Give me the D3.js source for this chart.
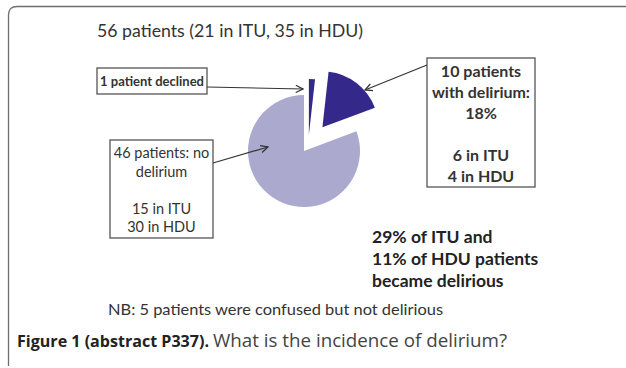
<!DOCTYPE html>
<html>
<head>
<meta charset="utf-8">
<script src="https://cdn.jsdelivr.net/npm/d3@7"></script>
<style>
  html, body { margin: 0; padding: 0; background: #fff; }
  svg { display: block; }
</style>
</head>
<body>
<svg id="chart" width="626" height="368"></svg>
<script>
// Study cohort split, in pie order (clockwise from 12 o'clock)
const categories = ["declined", "delirium", "noDelirium"];
const counts = [1, 10, 46];
const sliceColors = ["#34298a", "#34298a", "#abaace"];

const titleText = "56 patients (21 in ITU, 35 in HDU)";
const declinedLines = ["1 patient declined"];
const deliriumLines = ["10 patients", "with delirium:", "18%", "", "6 in ITU", "4 in HDU"];
const noDeliriumLines = ["46 patients: no", "delirium", "", "15 in ITU", "30 in HDU"];
const summaryLines = ["29% of ITU and", "11% of HDU patients", "became delirious"];
const noteText = "NB: 5 patients were confused but not delirious";
const captionBold = "Figure 1 (abstract P337).";
const captionRest = "What is the incidence of delirium?";

const svg = d3.select("#chart");
const FONT = "Lato, 'Open Sans', sans-serif";

// outer frame: rounded top-left corner, running off the right and bottom edges
svg.append("path")
  .attr("d", "M8.5,366 L8.5,15 Q8.5,6.5 17,6.5 L640,6.5")
  .attr("fill", "none").attr("stroke", "#6e6e6e").attr("stroke-width", 1.3);

// arrow marker (open V head)
const defs = svg.append("defs");
defs.append("marker")
  .attr("id", "head").attr("viewBox", "0 0 10 10")
  .attr("refX", 9).attr("refY", 5)
  .attr("markerWidth", 9).attr("markerHeight", 9)
  .attr("markerUnits", "userSpaceOnUse")
  .attr("orient", "auto")
  .append("path").attr("d", "M1,1 L9,5 L1,9")
  .attr("fill", "none").attr("stroke", "#333").attr("stroke-width", 1.4);

// title
svg.append("text").attr("x", 97).attr("y", 37)
  .attr("font-family", FONT).attr("font-size", 17).attr("fill", "#333")
  .attr("textLength", 266).attr("lengthAdjust", "spacingAndGlyphs")
  .text(titleText);

// pie
const cx = 304, cy = 151, radius = 56;
const explode = { declined: 16, delirium: 30, noDelirium: 0 };
const pie = d3.pie().sort(null).startAngle(0).endAngle(2 * Math.PI);
const arcs = pie(counts);
const arc = d3.arc().innerRadius(0).outerRadius(radius);

svg.append("g").attr("transform", `translate(${cx},${cy})`)
  .selectAll("path").data(arcs).join("path")
  .attr("d", arc)
  .attr("fill", (d, i) => sliceColors[i])
  .attr("transform", (d, i) => {
    const mid = (d.startAngle + d.endAngle) / 2;
    const off = explode[categories[i]];
    // the thin sliver sits a touch right of its own radial line
    const nudge = categories[i] === "declined" ? 4 : 0;
    return `translate(${off * Math.sin(mid) + nudge},${-off * Math.cos(mid)})`;
  });

// boxed labels
function box(x0, y0, w, h, lines, opts) {
  const g = svg.append("g");
  g.append("rect").attr("x", x0).attr("y", y0).attr("width", w).attr("height", h)
    .attr("fill", "#fff").attr("stroke", "#555").attr("stroke-width", 1.3);
  g.selectAll("text").data(lines).join("text")
    .attr("x", x0 + w / 2)
    .attr("y", (d, i) => opts.firstY + i * opts.lh)
    .attr("text-anchor", "middle")
    .attr("font-family", FONT).attr("font-size", opts.size)
    .attr("font-weight", opts.weight).attr("fill", "#333")
    .text(d => d);
}

box(97, 68, 110, 26, declinedLines, { firstY: 85.5, lh: 0, size: 13, weight: 700 });
box(427, 58, 108, 129, deliriumLines, { firstY: 77, lh: 21, size: 16, weight: 700 });
box(110, 140, 103, 98, noDeliriumLines, { firstY: 158, lh: 18.5, size: 14.5, weight: 400 });

// arrows
function arrow(x1, y1, x2, y2) {
  svg.append("line").attr("x1", x1).attr("y1", y1).attr("x2", x2).attr("y2", y2)
    .attr("stroke", "#333").attr("stroke-width", 1.2)
    .attr("marker-end", "url(#head)");
}
arrow(207, 87, 303, 89);
arrow(427, 65, 365, 90);
arrow(213, 163, 268, 147);

// summary
svg.append("g").selectAll("text").data(summaryLines).join("text")
  .attr("x", 372).attr("y", (d, i) => 243 + i * 22)
  .attr("font-family", FONT).attr("font-size", 17.5).attr("font-weight", 700)
  .attr("fill", "#222")
  .text(d => d);

// note
svg.append("text").attr("x", 108).attr("y", 315)
  .attr("font-family", FONT).attr("font-size", 15).attr("fill", "#333")
  .attr("textLength", 335).attr("lengthAdjust", "spacingAndGlyphs")
  .text(noteText);

// caption
svg.append("text").attr("x", 17).attr("y", 347)
  .attr("font-family", "'Open Sans', sans-serif").attr("font-size", 16.5)
  .attr("font-weight", 700).attr("fill", "#222")
  .attr("textLength", 192).attr("lengthAdjust", "spacingAndGlyphs")
  .text(captionBold);
svg.append("text").attr("x", 213).attr("y", 347)
  .attr("font-family", "'Open Sans', sans-serif").attr("font-size", 18)
  .attr("font-weight", 400).attr("fill", "#444")
  .attr("textLength", 294).attr("lengthAdjust", "spacingAndGlyphs")
  .text(captionRest);
</script>
</body>
</html>
